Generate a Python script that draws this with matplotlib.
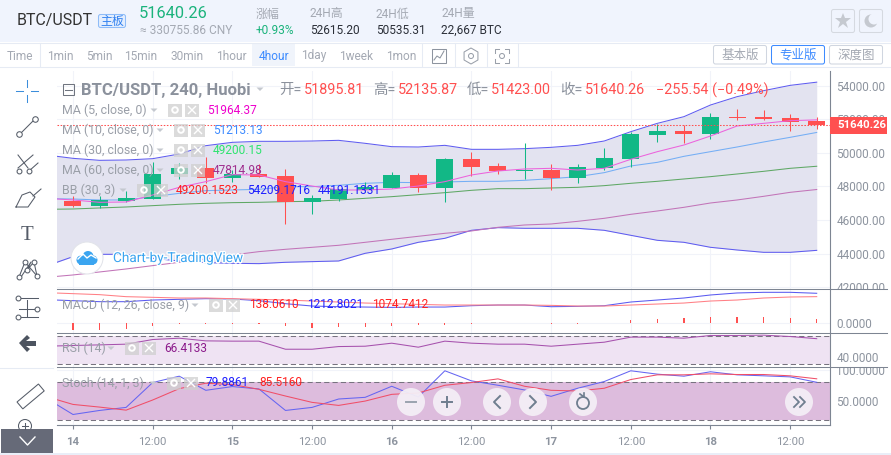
from matplotlib.pyplot import figure, rcParams
from matplotlib.patches import Rectangle, Circle, FancyBboxPatch, RegularPolygon, Polygon
from matplotlib.transforms import Bbox
from matplotlib import patheffects
from numpy import arange

rcParams['font.family'] = ['Roboto', 'Noto Sans CJK SC', 'DejaVu Sans']

W, H = 891, 455

# candles, index 0 is the 14th 00:00, one candle every 4 hours
opens = [47131, 46854, 47131, 47250, 48739, 49094, 48501, 48739, 48620, 47092, 47250, 47786, 47905, 48680, 47925,
         49633, 49216, 48938, 48977, 48521, 49116, 49633, 51082, 51300, 51121, 52134, 52134, 52074, 51895.81]
highs = [47429, 47429, 47707, 49434, 49374, 49732, 48977, 49335, 49037, 47469, 47826, 48243, 48838, 48799, 49672,
         50029, 49374, 50585, 49335, 49335, 50287, 51240, 51737, 51637, 52372, 52610, 52550, 52312, 52135.87]
lows = [46754, 46695, 47052, 47250, 48442, 48184, 48283, 48581, 45762, 46357, 47151, 47687, 47905, 47687, 47092,
        48640, 48759, 48442, 47806, 48223, 48997, 49176, 50665, 50585, 50843, 51975, 51975, 51320, 51423.00]
closes = [46854, 47191, 47310, 48739, 49094, 48501, 48739, 48581, 47092, 47310, 47826, 47965, 48660, 47925, 49633,
          49176, 48938, 48977, 48521, 49156, 49692, 51121, 51300, 51141, 52134, 52074, 52034, 51856, 51640.26]

# the line series start one candle before the first visible one
ma5 = [47290, 47191, 47052, 47072, 47489, 47945, 48283, 48700, 48680, 48283, 48024, 47786, 47786, 47846, 48024,
       48283, 48680, 48918, 49037, 49077, 48977, 49077, 49613, 50069, 50466, 51002, 51598, 51756, 51915, 51964]
ma10 = [47270, 47250, 47191, 47191, 47389, 47588, 47747, 47786, 47826, 47985, 47985, 48065, 48184, 48243, 48223,
        48263, 48303, 48303, 48362, 48461, 48580, 48819, 49216, 49434, 49791, 50069, 50347, 50645, 50923, 51213]
ma30 = [46635, 46655, 46715, 46774, 46854, 46933, 46992, 47032, 47052, 47092, 47112, 47191, 47290, 47389, 47509,
        47627, 47767, 47866, 47866, 47906, 47945, 48045, 48184, 48303, 48442, 48581, 48739, 48898, 49077, 49200]
ma60 = [42586, 42725, 42903, 43082, 43281, 43479, 43677, 43916, 44114, 44253, 44372, 44492, 44670, 44849, 45028,
        45206, 45345, 45563, 45702, 45762, 45920, 46099, 46337, 46536, 46754, 47012, 47191, 47409, 47647, 47815]
bb_upper = [49871, 49672, 49553, 49573, 49652, 49930, 50426, 50625, 50685, 50685, 50704, 50744, 50566, 50367, 50347,
            50446, 50208, 50208, 50248, 50327, 50446, 50704, 51260, 51756, 52154, 52848, 53345, 53702, 54019, 54209]
bb_lower = [43261, 43816, 43955, 43955, 43717, 43558, 43459, 43420, 43400, 43479, 43519, 43558, 44015, 44273, 44670,
            44908, 45385, 45543, 45504, 45504, 45504, 45385, 45087, 44789, 44670, 44372, 44213, 44074, 44074, 44191]

macd_hist = [-290, -290, -248, -124, -55, -55, -55, -55, -151, -207, -193, -165, -138, -110, -83,
             -41, -14, -14, -41, -41, -7, 110, 151, 193, 234, 234, 234, 193, 138]
macd_line = [950, 909, 868, 868, 936, 964, 991, 978, 909, 785, 689, 661, 647, 633, 647,
             647, 702, 730, 730, 661, 675, 702, 854, 936, 1019, 1143, 1226, 1253, 1253, 1213]
macd_signal = [1239, 1198, 1157, 1074, 1047, 1019, 1019, 991, 964, 936, 895, 854, 812, 785, 757,
               730, 730, 730, 730, 716, 689, 689, 730, 771, 812, 895, 936, 1019, 1060, 1075]
rsi = [55.7, 56.7, 57.6, 58.6, 65.2, 67.1, 63.3, 62.9, 62.9, 51.4, 51.4, 55.2, 55.7, 60.0, 54.3,
       62.9, 60.0, 58.6, 58.6, 55.7, 58.6, 61.4, 68.6, 68.6, 67.1, 71.0, 71.0, 71.4, 69.5, 66.4]
stoch_k = [54.1, 28.1, 34.6, 39.5, 79.5, 89.7, 67.0, 73.0, 69.2, 34.6, 39.5, 53.0, 55.7, 73.5, 56.2,
           98.4, 82.2, 75.1, 67.6, 57.3, 70.3, 81.1, 98.4, 93.0, 89.7, 96.8, 91.9, 90.3, 88.6, 79.9]
stoch_d = [56.8, 44.3, 40.0, 35.1, 51.4, 69.7, 78.4, 76.2, 68.6, 57.8, 47.6, 42.7, 49.7, 60.5, 62.7,
           75.1, 79.5, 85.4, 73.5, 67.0, 65.9, 70.3, 84.3, 91.9, 91.9, 93.5, 92.4, 92.4, 90.3, 85.5]

price_ticks = [42000, 44000, 46000, 48000, 50000, 52000, 54000]
time_tick_pos = [0, 3, 6, 9, 12, 15, 18, 21, 24, 27]
time_tick_labels = ['14', '12:00', '15', '12:00', '16', '12:00', '17', '12:00', '18', '12:00']
intervals = ['Time', '1min', '5min', '15min', '30min', '1hour', '4hour', '1day', '1week', '1mon']

GREEN = '#12b886'
RED = '#ff5050'
GRAY = '#8d949f'
AXIS = '#7d8592'
GRID = '#f1f3f9'
LEFT, RIGHT = 57, 830
THIN = 0.75


def pane(fig, top, bottom, ylim):
    ax = fig.add_axes([LEFT / W, 1 - bottom / H, (RIGHT - LEFT) / W, (bottom - top) / H])
    ax.set_xlim(-0.602, 28.5)
    ax.set_ylim(*ylim)
    ax.yaxis.tick_right()
    ax.set_xticks(time_tick_pos)
    ax.grid(True, color=GRID, linewidth=THIN)
    ax.set_axisbelow(True)
    for side in ['top', 'left', 'bottom']:
        ax.spines[side].set_visible(False)
    ax.spines['right'].set_color(AXIS)
    ax.tick_params(axis='x', length=0, labelbottom=False)
    ax.tick_params(axis='y', length=0, pad=4.5, labelsize=8.5, labelcolor=GRAY)
    return ax


def clip_labels(ax, top, bottom):
    # labels near a pane edge get cut off by the separator
    box = Bbox([[RIGHT, H - bottom], [W, H - top]])
    for lbl in ax.get_yticklabels():
        lbl.set_clip_box(box)
        lbl.set_clip_on(True)


def put(ov, x, y, s, color=GRAY, size=8.2, **kw):
    kw.setdefault('va', 'center')
    return ov.text(x, y, s, color=color, fontsize=size, **kw)


def buttons(ov, x, y):
    # gear and close boxes next to a legend row
    for bx in (x, x + 17):
        ov.add_patch(Rectangle((bx, y - 6.5), 14, 13, color='#cfcfcf', alpha=0.75, lw=0))
    ov.add_patch(Circle((x + 7, y), 2.8, fc='none', ec='white', lw=1.4))
    ov.plot([x + 20.5, x + 27.5], [y - 3.5, y + 3.5], color='white', lw=1)
    ov.plot([x + 20.5, x + 27.5], [y + 3.5, y - 3.5], color='white', lw=1)


def caret(ov, x, y):
    ov.add_patch(Polygon([[x - 3.5, y - 1.5], [x + 3.5, y - 1.5], [x, y + 2]], color='#c4c8cf', lw=0))


fig = figure(figsize=(W / 100, H / 100), dpi=100, facecolor='white')

xs = arange(len(closes))
xl = arange(-1, len(closes))

# main pane
main = pane(fig, 71, 289.3, (41871, 54874))
main.set_yticks(price_ticks)
main.set_yticklabels([f'{p:.2f}' for p in price_ticks])
main.fill_between(xl, bb_lower, bb_upper, color='#e3e3f0', lw=0, zorder=1)
main.plot(xl, bb_upper, color='#5f5cf0', lw=THIN, zorder=2)
main.plot(xl, bb_lower, color='#5f5cf0', lw=THIN, zorder=2)
main.plot(xl, ma60, color='#c274b8', lw=THIN, zorder=2)
main.plot(xl, ma30, color='#5fa865', lw=THIN, zorder=2)
main.plot(xl, ma10, color='#74aef5', lw=THIN, zorder=2)
for i in xs:
    c = GREEN if closes[i] >= opens[i] else RED
    main.vlines(i, lows[i], highs[i], color=c, lw=THIN, zorder=3)
    main.bar(i, abs(closes[i] - opens[i]), bottom=min(opens[i], closes[i]), width=0.64, color=c, lw=0, zorder=3)
main.plot(xl, ma5, color='#ec62dc', lw=THIN, zorder=4)
main.axhline(closes[-1], color=RED, lw=THIN, ls=(0, (1.5, 1.5)), zorder=4)
clip_labels(main, 71, 289.3)

# MACD pane
macd = pane(fig, 289.3, 332.5, (-400, 1377))
macd.set_yticks([0])
macd.set_yticklabels(['0.0000'])
macd.bar(xs, macd_hist, width=0.045, color=RED, lw=0, zorder=2)
macd.plot(xl, macd_line, color='#5a5af0', lw=THIN, zorder=3)
macd.plot(xl, macd_signal, color='#ff7f85', lw=THIN, zorder=3)

# RSI pane
rsi_ax = pane(fig, 332.5, 367.3, (25.7, 75.2))
rsi_ax.set_yticks([40])
rsi_ax.set_yticklabels(['40.0000'])
rsi_ax.axhspan(30, 70, color='#efe3f3', lw=0, zorder=1)
for lvl in (30, 70):
    rsi_ax.axhline(lvl, color='#77737f', lw=THIN, ls=(0, (5, 3)), zorder=2)
rsi_ax.plot(xl, rsi, color='#a651ad', lw=THIN, zorder=3)

# Stochastic pane
st = pane(fig, 367.3, 424.5, (12, 104))
st.set_yticks([50, 100])
st.set_yticklabels(['50.0000', '100.0000'])
st.axhspan(20, 80, color='#ddbcdd', lw=0, zorder=1)
for lvl in (20, 80):
    st.axhline(lvl, color='#77737f', lw=THIN, ls=(0, (5, 3)), zorder=2)
st.plot(xl, stoch_k, color='#6565f2', lw=THIN, zorder=3)
st.plot(xl, stoch_d, color='#f04e68', lw=THIN, zorder=3)
st.spines['bottom'].set_visible(True)
st.spines['bottom'].set_color(AXIS)
st.tick_params(axis='x', length=3, color=AXIS, labelbottom=True, labelsize=8.2, labelcolor=GRAY, pad=6)
st.set_xticklabels(time_tick_labels)
for lbl in st.get_xticklabels():
    if ':' not in lbl.get_text():
        lbl.set_fontweight('bold')
clip_labels(st, 367.3, 424.5)

# everything that is page furniture goes on a pixel overlay
ov = fig.add_axes([0, 0, 1, 1], zorder=10)
ov.set_xlim(0, W)
ov.set_ylim(H, 0)
ov.axis('off')

ov.add_patch(Rectangle((0, 0), W, 42, color='#f0f4fd', lw=0))
ov.add_patch(Rectangle((0, 42), W, 24.5, color='white', lw=0))
ov.add_patch(Rectangle((252, 43), 43, 23, color='#f0f4fb', lw=0))
ov.plot([0, W], [42.5, 42.5], color='#e6ebf4', lw=THIN)
ov.plot([0, W], [66.5, 66.5], color='#e6ebf4', lw=THIN)
ov.add_patch(Rectangle((0, 453), W, 2, color='#e9eef8', lw=0))
for px in (40, 422, 455, 487, 518):
    ov.plot([px, px], [43, 66], color='#e6ebf4', lw=THIN)

# pane separators run past the price axis
for py in (289.3, 332.5, 367.3):
    ov.plot([LEFT, 887], [py, py], color=AXIS, lw=THIN)
ov.plot([0, 53], [367.5, 367.5], color='#e6ebf4', lw=THIN)

# header
put(ov, 17, 21, 'BTC/USDT', '#333333', 11.5)
ov.add_patch(FancyBboxPatch((98.5, 14.5), 27, 13, boxstyle='round,pad=0,rounding_size=2', fc='#e4eefe', ec='#8fbcf8', lw=THIN))
put(ov, 112, 21, '主板', '#2f80f0', 8.6, ha='center')
put(ov, 139, 14, '51640.26', '#1bb37c', 11.8)
put(ov, 140, 30, '≈ 330755.86 CNY', '#a4a9b3', 8.6)
put(ov, 256, 14, '涨幅', '#a4a9b3', 8.6)
put(ov, 256, 30, '+0.93%', '#1bb37c', 8.6)
put(ov, 310, 14, '24H高', '#a4a9b3', 8.6)
put(ov, 310, 30, '52615.20', '#2b2f38', 8.6)
put(ov, 376, 14, '24H低', '#a4a9b3', 8.6)
put(ov, 376, 30, '50535.31', '#2b2f38', 8.6)
put(ov, 441, 14, '24H量', '#a4a9b3', 8.6)
put(ov, 441, 30, '22,667 BTC', '#2b2f38', 8.6)
for bx in (831.5, 859.5):
    ov.add_patch(FancyBboxPatch((bx, 9.5), 23, 23, boxstyle='round,pad=0,rounding_size=2', fc='#f0f4fd', ec='#d5d9e0', lw=THIN))
ov.plot([843], [21], marker='*', ms=12, color='#c5c9d0', mew=0)
ov.add_patch(Circle((871, 21), 6.5, color='#c5c9d0', lw=0))
ov.add_patch(Circle((874, 19), 5.5, color='#f0f4fd', lw=0))

# interval row
for name, cx in zip(intervals, [20, 60, 99, 141, 187, 231, 274, 314, 356, 401]):
    put(ov, cx, 56, name, '#3d8bff' if name == '4hour' else '#a4a9b3', 8.6, ha='center')
ov.add_patch(Rectangle((432, 49), 14, 14, fc='none', ec='#8d949f', lw=THIN))
ov.plot([434, 437, 440, 444], [60, 56, 58, 51], color='#8d949f', lw=THIN)
ov.add_patch(RegularPolygon((471, 56), 6, radius=8, fc='none', ec='#9aa0aa', lw=THIN))
ov.add_patch(Circle((471, 56), 2.5, fc='none', ec='#9aa0aa', lw=THIN))
ov.add_patch(Circle((502, 56), 2.5, fc='none', ec='#9aa0aa', lw=THIN))
for cx, cy, dx, dy in ((495, 49, 1, 1), (509, 49, -1, 1), (495, 63, 1, -1), (509, 63, -1, -1)):
    ov.plot([cx + 4 * dx, cx, cx], [cy, cy, cy + 4 * dy], color='#9aa0aa', lw=THIN)
for x0, x1, s, blue in ((713, 767, '基本版', False), (771, 825, '专业版', True), (829, 883, '深度图', False)):
    ec = '#3d8bff' if blue else '#d0d6e0'
    ov.add_patch(FancyBboxPatch((x0 + .5, 45.5), x1 - x0 - 1, 18.5, boxstyle='round,pad=0,rounding_size=2', fc='white', ec=ec, lw=THIN))
    put(ov, (x0 + x1) / 2, 55.5, s, '#3d8bff' if blue else '#a4a9b3', 9, ha='center')

# chart title row
TITLE = '#8b919c'
ov.add_patch(Rectangle((62.5, 84), 11, 11, fc='none', ec='#70757f', lw=THIN))
ov.plot([64.5, 71.5], [89.5, 89.5], color='#70757f', lw=THIN)
put(ov, 81, 90, 'BTC/USDT, 240, Huobi', TITLE, 12, fontweight='bold')
caret(ov, 260, 89)
for lx, vx, lab, val in ((279, 304, '开=', '51895.81'), (373, 398, '高=', '52135.87'),
                         (467, 491, '低=', '51423.00'), (560, 585, '收=', '51640.26')):
    put(ov, lx, 90, lab, TITLE, 10.4)
    put(ov, vx, 90, val, RED, 10.4)
put(ov, 656, 90, '−255.54 (−0.49%)', RED, 10.4)

# legend rows
rows = [(110, 'MA (5, close, 0)', 154, 168, 207, '51964.37', '#ee00cc'),
        (130, 'MA (10, close, 0)', 160, 174, 213, '51213.13', '#3d8bff'),
        (150, 'MA (30, close, 0)', 160, 174, 213, '49200.15', '#2ee36f'),
        (170, 'MA (60, close, 0)', 160, 174, 213, '47814.98', '#a0308f'),
        (190, 'BB (30, 3)', 123, 137, 176, '49200.1523', '#ff2020'),
        (305, 'MACD (12, 26, close, 9)', 195, 209, 249, '138.0610', '#ff2020'),
        (348, 'RSI (14)', 111, 125, 164, '66.4133', '#8b1a8b'),
        (383, 'Stoch (14, 1, 3)', 153, 167, 206, '79.8861', '#2020ff')]
for y, name, cx, bx, vx, val, col in rows:
    put(ov, 62, y, name, '#9a9fa8', 8.9)
    caret(ov, cx, y)
    buttons(ov, bx, y)
    put(ov, vx, y, val, col, 8.6)
put(ov, 247, 190, '54209.1716', '#2020ff', 8.6)
put(ov, 318, 190, '44191.1331', '#2020ff', 8.6)
put(ov, 307, 305, '1212.8021', '#2020ff', 8.6)
put(ov, 372, 305, '1074.7412', '#ff2020', 8.6)
put(ov, 259, 383, '85.5160', '#ff2020', 8.6)

# last price tag
ov.add_patch(Rectangle((830, 117), 57, 16.5, color=RED, lw=0))
put(ov, 837, 125.5, '51640.26', 'white', 8.2, fontweight='bold')

# TradingView badge
ov.add_patch(Circle((87, 258), 16, fc='white', ec='#e2e4ea', lw=THIN))
ov.add_patch(Circle((81, 260), 4.5, color='#3ba5f0', lw=0))
ov.add_patch(Circle((88, 256.5), 5.5, color='#3ba5f0', lw=0))
ov.add_patch(Circle((93, 260), 4.5, color='#3ba5f0', lw=0))
ov.add_patch(Rectangle((79, 259), 15, 5.5, color='#3ba5f0', lw=0))
ov.plot([78, 83, 87, 91, 96], [259, 254, 258, 255, 258], color='white', lw=1)
badge = put(ov, 113, 258, 'Chart-by-TradingView', '#3ba5f0', 9.8)
badge.set_path_effects([patheffects.withStroke(linewidth=2, foreground='white')])

# navigation buttons over the stochastic pane
for cx in (411, 447, 497, 533, 583, 799):
    ov.add_patch(Circle((cx, 402), 14, color='#f4eef6', lw=0, alpha=0.95))
NAV = '#6f7e8f'
ov.plot([406, 416], [402, 402], color='#9aa3af', lw=1.4)
ov.plot([442, 452], [402, 402], color=NAV, lw=1.4)
ov.plot([447, 447], [397, 407], color=NAV, lw=1.4)
ov.plot([500, 494, 500], [396, 402, 408], color=NAV, lw=1.4)
ov.plot([530, 536, 530], [396, 402, 408], color=NAV, lw=1.4)
ov.add_patch(Circle((583, 403), 6, fc='none', ec=NAV, lw=1.3))
ov.plot([580, 584, 584], [394, 397, 393], color=NAV, lw=1.2)
ov.plot([794, 799, 794], [397, 402, 407], color=NAV, lw=1.3)
ov.plot([800, 805, 800], [397, 402, 407], color=NAV, lw=1.3)

# drawing tools on the left
ICON = '#555c68'
for seg in (([16, 23], [91, 91]), ([31, 38], [91, 91]), ([27, 27], [80, 87]), ([27, 27], [95, 102])):
    ov.plot(seg[0], seg[1], color='#3b8edb', lw=THIN)
ov.plot([20, 34], [134, 120], color=ICON, lw=THIN)
ov.plot([19, 35], [134, 119], ls='none', marker='o', ms=4, mfc='white', mec=ICON, mew=THIN)
ov.plot([18, 28], [155, 168], color=ICON, lw=THIN)
ov.plot([18, 33], [168, 155], color=ICON, lw=THIN)
ov.plot([29, 38], [171, 163], color=ICON, lw=THIN)
ov.plot([19, 29], [171, 171], ls='none', marker='o', ms=3.5, mfc='white', mec=ICON, mew=THIN)
ov.plot([16, 22, 30, 35, 28, 16], [207, 195, 192, 197, 207, 207], color=ICON, lw=THIN)
ov.plot([33, 41], [196, 189], color=ICON, lw=THIN)
put(ov, 27, 235, 'T', ICON, 15, ha='center', family='Liberation Serif')
ov.plot([19, 25, 37, 34, 27, 31, 21], [277, 262, 276, 262, 270, 262, 277], color=ICON, lw=THIN)
ov.plot([19, 25, 37, 34, 27], [277, 262, 276, 262, 270], ls='none', marker='o', ms=3.5, mfc='white', mec=ICON, mew=THIN)
for py, x0 in ((298, 18), (309, 37), (317, 18)):
    ov.plot([x0 + 3 if x0 == 18 else 19, 38 if x0 == 18 else 34], [py, py], color=ICON, lw=THIN)
    ov.plot([x0], [py], marker='o', ms=3.5, mfc='white', mec=ICON, mew=THIN)
ov.plot([27, 27], [300, 316], color=ICON, lw=THIN)
ov.add_patch(Polygon([[19, 343], [27, 335], [30, 338], [26, 341], [36, 341], [36, 346], [26, 346],
                      [30, 349], [27, 352]], color='#4d5460', lw=0))
ov.add_patch(Rectangle((17, 402), 28, 9, angle=-40, fc='none', ec=ICON, lw=THIN))
ov.add_patch(Circle((25, 426), 6.5, fc='none', ec=ICON, lw=THIN))
ov.plot([22, 28], [426, 426], color=ICON, lw=THIN)
ov.plot([25, 25], [423, 429], color=ICON, lw=THIN)
ov.add_patch(Rectangle((1, 429), 52, 24, color='#666a78', lw=0))
ov.plot([20, 27.5, 35], [437, 445, 437], color='white', lw=1)

fig.savefig('out.png', dpi=100)
